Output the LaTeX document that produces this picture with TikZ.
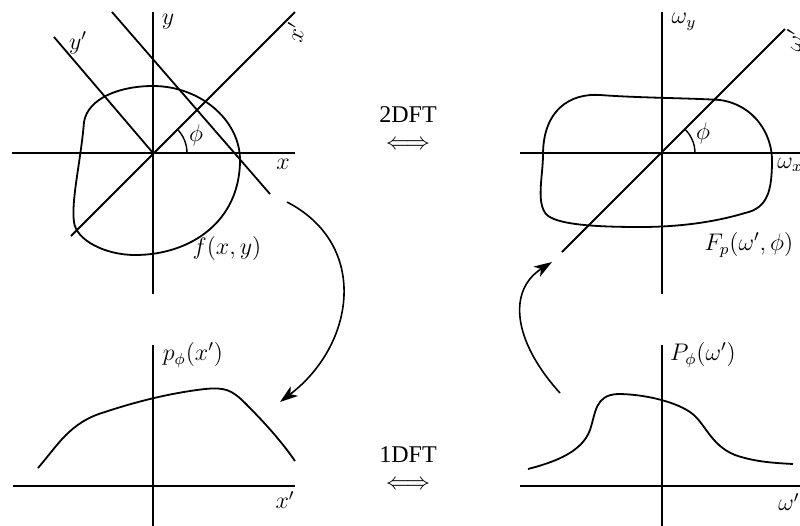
\documentclass[tikz,border=0pt]{standalone}
\usepackage{fontspec}
\setmainfont{Liberation Serif}
\usetikzlibrary{arrows.meta}
\begin{document}
\begin{tikzpicture}[x=0.5pt,y=-0.5pt,
  ax/.style={line width=0.9pt},
  crv/.style={line width=0.9pt},
  lbl/.style={inner sep=0pt,font=\fontsize{12}{14}\selectfont},
  conn/.style={line width=0.8pt,-{Stealth[length=9pt,width=6pt,inset=2.5pt]}}]
\useasboundingbox (0,0) rectangle (800,526);
\clip (0,0) rectangle (800,526);
% ---------- top-left panel ----------
\coordinate (o1) at (153,153);
\draw[ax] (12,153) -- (295,153);
\draw[ax] (153,12) -- (153,294);
\draw[ax] (71,236) -- (295,12);
\draw[ax] (54,37) -- (o1);
\draw[ax] (112,12) -- (270,194);
\draw[line width=0.7pt] (187,153) arc[start angle=0,end angle=-45,radius=34];
\draw[crv] (84,122) .. controls (88,98) and (120,86) .. (153,86)
  .. controls (200,86) and (240,120) .. (240,160)
  .. controls (240,222) and (190,255) .. (135,255)
  .. controls (105,255) and (76,240) .. (74,222)
  .. controls (71,200) and (81,160) .. (84,122) -- cycle;
\node[lbl] (ly) at (168,22) {$y$};
\node[lbl] (lyp) at (78,43) {$y'$};
\node[lbl,rotate=78] (lxp) at (295,32) {$x'$};
\node[lbl] (lx) at (283,164) {$x$};
\node[lbl] (lphi1) at (196,135) {$\phi$};
\node[lbl] (lf) at (227,248) {$f(x,y)$};
% ---------- top-right panel ----------
\coordinate (o2) at (662,153);
\draw[ax] (520,153) -- (810,153);
\draw[ax] (662,12) -- (662,294);
\draw[ax] (562,252) -- (785,29);
\draw[line width=0.7pt] (695,153) arc[start angle=0,end angle=-45,radius=33];
\draw[crv] (543,155) .. controls (543,110) and (570,93) .. (600,95)
  .. controls (640,98) and (690,98) .. (720,100)
  .. controls (755,105) and (772,135) .. (772,160)
  .. controls (772,190) and (768,208) .. (745,213)
  .. controls (715,222) and (680,227) .. (640,227)
  .. controls (590,227) and (555,224) .. (546,214)
  .. controls (536,202) and (543,175) .. (543,155) -- cycle;
\node[lbl] (lwy) at (684,22) {$\omega_y$};
\node[lbl,anchor=west] (lwx) at (777,165) {$\omega_x$};
\node[lbl,rotate=78] (lwp) at (794,40) {$\omega'$};
\node[lbl] (lphi2) at (703,133) {$\phi$};
\node[lbl] (lF) at (749,245) {$F_p(\omega',\phi)$};
% ---------- bottom-left panel ----------
\draw[ax] (13,486) -- (295,486);
\draw[ax] (153,345) -- (153,526);
\draw[crv] (38,468) .. controls (58,445) and (70,422) .. (105,412)
  .. controls (135,402) and (170,393) .. (205,389)
  .. controls (225,387) and (232,390) .. (245,403)
  .. controls (265,423) and (282,442) .. (295,461);
\node[lbl] (lp) at (193,355) {$p_\phi(x')$};
\node[lbl] (lxp2) at (285,500) {$x'$};
% ---------- bottom-right panel ----------
\draw[ax] (520,486) -- (810,486);
\draw[ax] (662,345) -- (662,526);
\draw[crv] (528,469) .. controls (555,462) and (582,452) .. (590,430)
  .. controls (596,412) and (595,395) .. (618,394)
  .. controls (640,394) and (672,400) .. (690,412)
  .. controls (705,422) and (710,445) .. (735,455)
  .. controls (755,462) and (775,463) .. (793,464);
\node[lbl] (lP) at (703,355) {$P_\phi(\omega')$};
\node[lbl,anchor=west] (lwp2) at (778,502) {$\omega'$};
% ---------- transforms ----------
\node[lbl] (t2) at (408,115) {2DFT};
\node[lbl] (a2) at (408,145) {$\Longleftrightarrow$};
\node[lbl] (t1) at (408,455) {1DFT};
\node[lbl] (a1) at (408,485) {$\Longleftrightarrow$};
% ---------- connectors ----------
\coordinate (s1) at (287,202);
\coordinate (e1) at (280,402);
\coordinate (s2) at (560,393);
\coordinate (e2) at (552,262);
\draw[conn] (s1) .. controls (370,245) and (355,345) .. (e1);
\draw[conn] (s2) .. controls (512,340) and (508,290) .. (e2);
\end{tikzpicture}
\end{document}
